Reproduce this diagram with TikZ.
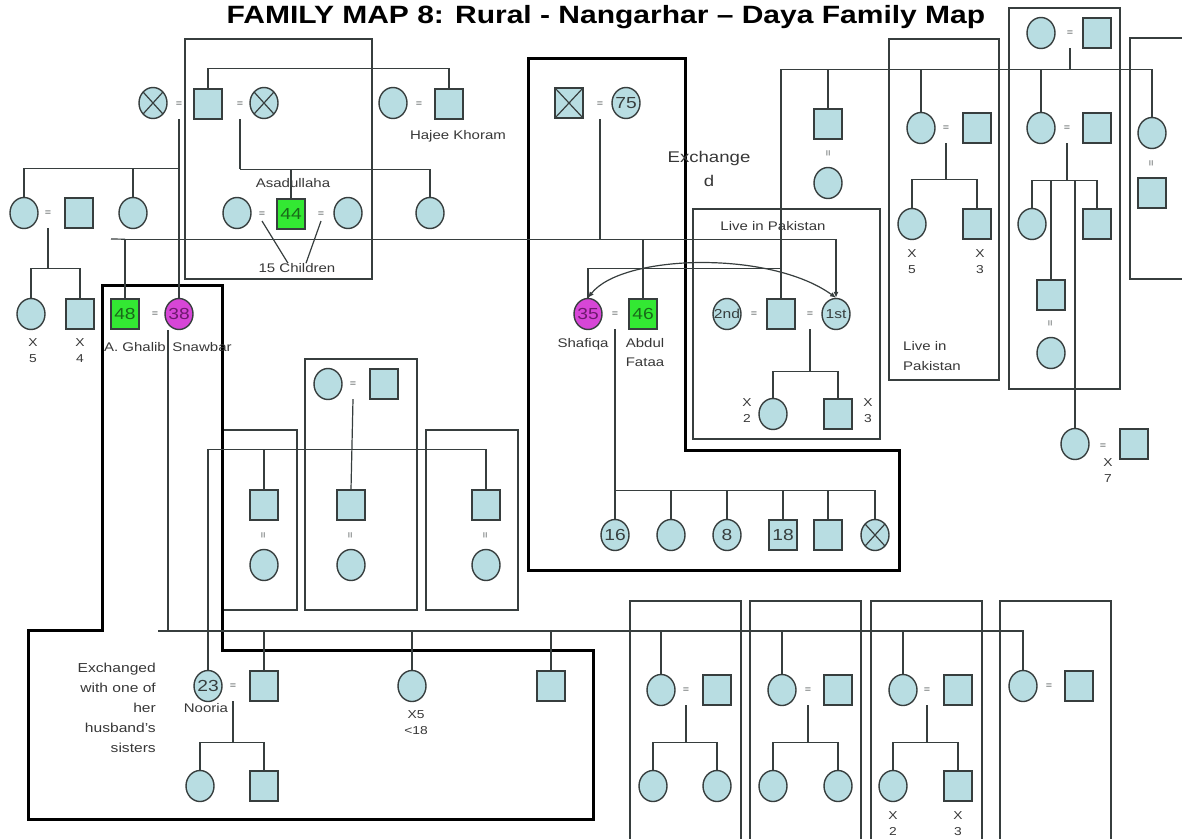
\documentclass[tikz,border=0pt]{standalone}
\usepackage{fontspec}
\setmainfont{Liberation Sans}[FakeStretch=1.2]
\usepackage{xcolor}
\usepackage{tikz}
\usetikzlibrary{arrows.meta,shapes.geometric}

\definecolor{kin}{RGB}{184,221,226}
\definecolor{kinline}{RGB}{55,62,62}
\definecolor{alive}{RGB}{51,232,51}
\definecolor{alivetxt}{RGB}{25,105,25}
\definecolor{wife}{RGB}{215,70,215}
\definecolor{wifetxt}{RGB}{110,25,110}
\definecolor{lbltxt}{RGB}{55,55,55}

\newcommand{\kinnum}[1]{\makebox[0pt]{#1}}

\begin{document}
\begin{tikzpicture}[x=1pt, y=-1pt,
  fem/.style={ellipse, draw=kinline, fill=kin, line width=1.4pt, minimum width=28pt, minimum height=31pt, inner sep=0pt, text=kinline, font=\fontsize{16}{16}\selectfont},
  mal/.style={rectangle, draw=kinline, fill=kin, line width=1.3pt, minimum width=28pt, minimum height=30pt, inner sep=0pt, text=kinline, font=\fontsize{16}{16}\selectfont},
  dead/.style={path picture={\draw[kinline, line width=1.2pt] (path picture bounding box.north west) -- (path picture bounding box.south east) (path picture bounding box.south west) -- (path picture bounding box.north east);}},
  ego/.style={fill=alive, text=alivetxt},
  bride/.style={fill=wife, text=wifetxt},
  eq/.style={inner sep=0pt, minimum height=30pt, text=kinline, font=\fontsize{9}{9}\selectfont},
  veq/.style={inner sep=0pt, text=kinline, font=\fontsize{9}{9}\selectfont, rotate=90},
  lbl/.style={inner sep=0pt, text=lbltxt, align=center, font=\fontsize{12.5}{15}\selectfont},
  cnt/.style={inner sep=0pt, text=lbltxt, align=center, font=\fontsize{11.5}{16}\selectfont},
  grp/.style={draw=kinline, line width=1.1pt},
  zone/.style={draw=black, line width=3pt, line join=miter},
  link/.style={draw=kinline, line width=1.2pt}
]
\useasboundingbox (0,0) rectangle (1182,838);

\node[font=\bfseries\fontsize{25}{25}\selectfont] (title) at (606,17) {FAMILY MAP 8: Rural - Nangarhar – Daya Family Map};

% frames
\draw[grp] (185,39) rectangle (372,279);
\draw[grp] (693,209) rectangle (880,439);
\draw[grp] (889,39) rectangle (999,380);
\draw[grp] (1009,8) rectangle (1120,389);
\draw[grp] (1130,38) rectangle (1200,279);
\draw[grp] (223,430) rectangle (297,610);
\draw[grp] (305,359) rectangle (417,610);
\draw[grp] (426,430) rectangle (518,610);
\foreach \x in {630,750,871,1000}
  \draw[grp] (\x,601) rectangle ++(111,260);
\draw[zone] (528,58) -- (685,58) -- (685,450) -- (899,450) -- (899,570) -- (528,570) -- cycle;
\draw[zone] (102,285) -- (222,285) -- (222,650) -- (593,650) -- (593,819) -- (28,819) -- (28,630) -- (102,630) -- cycle;

% top left
\node[fem, dead] (gw1) at (153,103) {};
\node[eq] (e1) at (179,104) {=};
\node[mal] (gh) at (208,104) {};
\node[eq] (e2) at (240,104) {=};
\node[fem, dead] (gw2) at (264,103) {};
\node[fem] (hkw) at (393,103) {};
\node[eq] (e3) at (419,104) {=};
\node[mal] (hk) at (449,104) {};
\node[lbl] (hklbl) at (458,136) {Hajee Khoram};

\node[fem] (sis1) at (24,213) {};
\node[eq] (e4) at (48,213) {=};
\node[mal] (sis1h) at (79,213) {};
\node[fem] (sis2) at (133,213) {};
\node[fem] (aw1) at (237,213) {};
\node[eq] (e5) at (262,214) {=};
\node[mal, ego] (asad) at (291,214) {44};
\node[eq] (e6) at (321,214) {=};
\node[fem] (aw2) at (348,213) {};
\node[fem] (sis3) at (430,213) {};
\node[lbl] (asadlbl) at (293,183) {Asadullaha};
\node[lbl] (kids15) at (297,268) {15 Children};

\node[fem] (gc1) at (31,314) {};
\node[mal] (gc2) at (80,314) {};
\node[cnt] (gc1n) at (33,351) {X\\5};
\node[cnt] (gc2n) at (80,351) {X\\4};
\node[mal, ego] (ghalib) at (125,314) {48};
\node[eq] (e8) at (155,314) {=};
\node[fem, bride] (snaw) at (179,314) {\kinnum{38}};
\node[lbl] (ghaliblbl) at (135,347) {A. Ghalib};
\node[lbl] (snawlbl) at (202,347) {Snawbar};

% exchanged block
\node[mal, dead] (oldm) at (569,103) {};
\node[eq] (e7) at (600,104) {=};
\node[fem] (old) at (626,103) {\kinnum{75}};
\node[lbl, font=\fontsize{15.5}{24}\selectfont] (exlbl) at (709,169) {Exchange\\d};
\node[fem, bride] (shaf) at (588,314) {\kinnum{35}};
\node[eq] (e11) at (615,314) {=};
\node[mal, ego] (fataa) at (643,314) {46};
\node[lbl] (shaflbl) at (583,344) {Shafiqa};
\node[lbl, font=\fontsize{12.5}{19}\selectfont] (fataalbl) at (645,353) {Abdul\\Fataa};
\node[fem] (c16) at (615,535) {\kinnum{16}};
\node[fem] (c2) at (671,535) {};
\node[fem] (c8) at (727,535) {\kinnum{8}};
\node[mal] (c18) at (783,535) {18};
\node[mal] (c5) at (828,535) {};
\node[fem, dead] (c6) at (875,535) {};

% live in Pakistan
\node[lbl] (pklbl) at (773,226) {Live in Pakistan};
\node[fem, font=\fontsize{13}{13}\selectfont] (w2nd) at (727,314) {\kinnum{2nd}};
\node[eq] (e12) at (754,314) {=};
\node[mal] (ph2) at (781,314) {};
\node[eq] (e13) at (810,314) {=};
\node[fem, font=\fontsize{13}{13}\selectfont] (w1st) at (836,314) {\kinnum{1st}};
\node[fem] (pk1) at (773,414) {};
\node[mal] (pk2) at (838,414) {};
\node[cnt] (pk1n) at (747,411) {X\\2};
\node[cnt] (pk2n) at (868,411) {X\\3};

% top right
\node[fem] (trw) at (1041,33) {};
\node[eq] (e14) at (1070,33) {=};
\node[mal] (trh) at (1097,33) {};
\node[mal] (s1) at (828,124) {};
\node[veq] (v1) at (829,153) {=};
\node[fem] (s1w) at (828,183) {};
\node[fem] (s2) at (921,128) {};
\node[eq] (e15) at (946,128) {=};
\node[mal] (s2h) at (977,128) {};
\node[fem] (k1) at (912,224) {};
\node[mal] (k2) at (977,224) {};
\node[cnt] (k1n) at (912,262) {X\\5};
\node[cnt] (k2n) at (980,262) {X\\3};
\node[lbl, align=left, anchor=west, font=\fontsize{12.5}{20}\selectfont] (pk2lbl) at (903,356) {Live in\\Pakistan};
\node[fem] (s3) at (1041,128) {};
\node[eq] (e16) at (1067,128) {=};
\node[mal] (s3h) at (1097,128) {};
\node[fem] (k3) at (1032,224) {};
\node[mal] (k6) at (1097,224) {};
\node[mal] (k4) at (1051,295) {};
\node[veq] (v2) at (1051,323) {=};
\node[fem] (k4w) at (1051,353) {};
\node[fem] (k5) at (1075,444) {};
\node[eq] (e17) at (1103,446) {=};
\node[mal] (k5h) at (1134,444) {};
\node[cnt] (k5n) at (1108,471) {X\\7};
\node[fem] (s4) at (1152,133) {};
\node[veq] (v3) at (1152,163) {=};
\node[mal] (s4h) at (1152,193) {};

% Nooria's side
\node[fem] (bpw) at (328,384) {};
\node[eq] (e10) at (353,384) {=};
\node[mal] (bph) at (384,384) {};
\node[mal] (b1) at (264,505) {};
\node[mal] (b2) at (351,505) {};
\node[mal] (b3) at (486,505) {};
\node[veq] (b1eq) at (264,535) {=};
\node[veq] (b2eq) at (351,535) {=};
\node[veq] (b3eq) at (486,535) {=};
\node[fem] (b1w) at (264,565) {};
\node[fem] (b2w) at (351,565) {};
\node[fem] (b3w) at (486,565) {};

% bottom row
\node[lbl, align=right, anchor=east, font=\fontsize{13}{20}\selectfont] (exch) at (156,708) {Exchanged\\with one of\\her\\husband's\\sisters};
\node[fem] (nooria) at (208,686) {\kinnum{23}};
\node[eq] (e9) at (233,686) {=};
\node[mal] (noorh) at (264,686) {};
\node[lbl] (noorlbl) at (206,708) {Nooria};
\node[fem] (nc1) at (200,786) {};
\node[mal] (nc2) at (264,786) {};
\node[fem] (d0) at (412,686) {};
\node[cnt] (d0n) at (416,723) {X5\\<18};
\node[mal] (son3) at (551,686) {};

\node[fem] (d1) at (661,690) {};
\node[eq] (e18) at (686,690) {=};
\node[mal] (d1h) at (717,690) {};
\node[fem] (d1a) at (653,786) {};
\node[fem] (d1b) at (717,786) {};
\node[fem] (d2) at (782,690) {};
\node[eq] (e19) at (808,690) {=};
\node[mal] (d2h) at (838,690) {};
\node[fem] (d2a) at (773,786) {};
\node[fem] (d2b) at (838,786) {};
\node[fem] (d3) at (903,690) {};
\node[eq] (e20) at (927,690) {=};
\node[mal] (d3h) at (958,690) {};
\node[fem] (d3a) at (893,786) {};
\node[mal] (d3b) at (958,786) {};
\node[cnt] (d3an) at (893,824) {X\\2};
\node[cnt] (d3bn) at (958,824) {X\\3};
\node[fem] (d4) at (1023,686) {};
\node[eq] (e21) at (1049,686) {=};
\node[mal] (d4h) at (1079,686) {};

% connectors
\coordinate (r2w) at (111,239);
\coordinate (e8s) at (168,330);
\coordinate (j8) at (168,631);
\coordinate (r3w) at (158,631);

\draw[link] (gh.north) -- ++(0,-20) -| (hk.north);
\draw[link] (e1.south) -- (snaw.north);
\draw[link] (sis1.north) -- ++(0,-28.5) -| (e1.south);
\draw[link] (sis2.north) -- ++(0,-28.5);
\draw[link] (e4.south) -- ++(0,40) coordinate (j4);
\draw[link] (gc1.north) |- (j4) -| (gc2.north);
\draw[link] (e2.south) -- ++(0,50) coordinate (j2);
\draw[link] (asad.north) |- (j2) -| (sis3.north);
\draw[link] ([yshift=-7pt]e5.center) -- ([xshift=-9pt]kids15.north);
\draw[link] ([yshift=-7pt]e6.center) -- ([xshift=9pt]kids15.north);

\draw[link] (e7.south) -- ++(0,120) coordinate (j7);
\draw[link] (ghalib.north) |- (j7) -| (fataa.north);
\draw[link] (r2w) -- (ghalib.north |- j7);
\draw[link, -{Latex[length=6pt,width=5pt]}] (j7) -| (w1st.north);
\draw[link] (shaf.north) -- ++(0,-29) -| (ph2.north);
\draw[link, {Latex[length=6pt,width=5pt]}-{Latex[length=6pt,width=5pt]}] (shaf.north) .. controls (622,254) and (770,250) .. (w1st.north);

\draw[link] (e8s) -- (j8);
\draw[link] (r3w) -- (j8);
\foreach \c in {noorh,d0,son3,d1,d2,d3,d4}
  \draw[link] (\c.north) |- (j8);

\draw[link] (e9.south) -- ++(0,41) coordinate (j9);
\draw[link] (nc1.north) |- (j9) -| (nc2.north);
\draw[link] (nooria.north) -- ++(0,-220) coordinate (j10) -| (b3.north);
\draw[link] (b1.north) -- (b1.north |- j10);
\draw[link] (e10.south) -- (b2.north);

\draw[link] (e11.south) -- (c16.north);
\draw[link] (c16.north) -- ++(0,-28.5) coordinate (j11) -| (c6.north);
\foreach \c in {c2,c8,c18,c5}
  \draw[link] (\c.north) -- (\c.north |- j11);

\draw[link] (e13.south) -- ++(0,42) coordinate (j13);
\draw[link] (pk1.north) |- (j13) -| (pk2.north);

\draw[link] (e14.south) -- ++(0,21) coordinate (j14);
\draw[link] (ph2.north) |- (j14) -| (s4.north);
\foreach \c in {s1,s2,s3}
  \draw[link] (\c.north) -- (\c.north |- j14);
\draw[link] (e15.south) -- ++(0,36) coordinate (j15);
\draw[link] (k1.north) |- (j15) -| (k2.north);
\draw[link] (e16.south) -- ++(0,37) coordinate (j16);
\draw[link] (k3.north) |- (j16) -| (k6.north);
\draw[link] (k4.north) -- (k4.north |- j16);
\draw[link] (k5.north) -- (k5.north |- j16);

\foreach \e/\a/\b in {e18/d1a/d1b, e19/d2a/d2b, e20/d3a/d3b} {
  \draw[link] (\e.south) -- ++(0,37) coordinate (jj);
  \draw[link] (\a.north) |- (jj) -| (\b.north);
}
\end{tikzpicture}
\end{document}
